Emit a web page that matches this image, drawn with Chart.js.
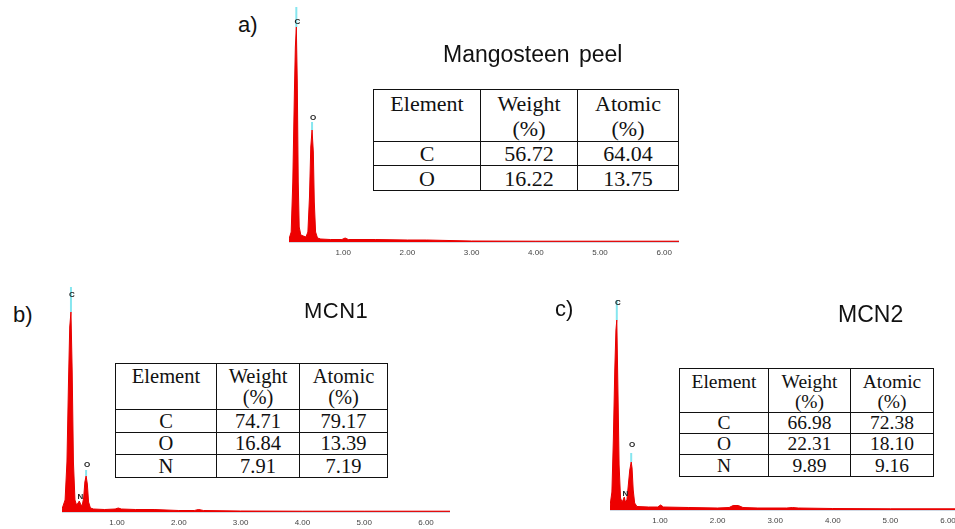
<!DOCTYPE html>
<html>
<head>
<meta charset="utf-8">
<script src="https://cdn.jsdelivr.net/npm/chart.js@4/dist/chart.umd.min.js"></script>
<style>
html,body{margin:0;padding:0;background:#fff;overflow:hidden;width:955px;height:529px;}
#wrap{position:relative;width:955px;height:529px;overflow:hidden;}
canvas{position:absolute;}
.lbl{position:absolute;font-family:"Liberation Sans",Arial,sans-serif;color:#111;line-height:1;white-space:pre;}
table{position:absolute;border-collapse:collapse;table-layout:fixed;font-family:"Liberation Serif","Times New Roman",serif;color:#111;background:#fff;}
td{border:1.5px solid #111;padding:0;text-align:center;vertical-align:middle;}
td.h{vertical-align:top;}
#ta{left:373px;top:89px;width:305px;font-size:22px;}
#ta td{line-height:23px;}
#ta td.h{line-height:25px;padding-top:1px;}
#tb{left:115px;top:363px;width:272px;font-size:20.5px;}
#tb td{line-height:21px;}
#tb td.h{line-height:21px;padding-top:2px;}
#tc{left:679px;top:368px;width:254px;font-size:19.5px;}
#tc td{line-height:20px;}
#tc td.h{line-height:20px;padding-top:3px;}
</style>
</head>
<body>
<div id="wrap">
<canvas id="ca" width="390" height="262" style="left:289px;top:0px;"></canvas>
<canvas id="cb" width="388" height="252" style="left:62px;top:280px;"></canvas>
<canvas id="cc" width="355" height="240" style="left:610px;top:290px;"></canvas>

<div class="lbl" style="left:238px;top:14px;font-size:22px;">a)</div>
<div class="lbl" style="left:443px;top:43px;font-size:23px;word-spacing:3px;">Mangosteen peel</div>
<div class="lbl" style="left:13px;top:304px;font-size:22px;">b)</div>
<div class="lbl" style="left:304px;top:300px;font-size:22px;letter-spacing:0.5px;">MCN1</div>
<div class="lbl" style="left:555px;top:298px;font-size:22px;">c)</div>
<div class="lbl" style="left:838px;top:303px;font-size:23px;">MCN2</div>

<table id="ta"></table>
<table id="tb"></table>
<table id="tc"></table>
</div>
<script>
// ---------- Data ----------
const xTickLabels = ["1.00","2.00","3.00","4.00","5.00","6.00"];
const xTickValues = [1,2,3,4,5,6];

// Panel a: Mangosteen peel spectrum (energy keV, counts)
const energyA = [0.156,0.19,0.215,0.24,0.255,0.27,0.285,0.30,0.315,0.34,0.38,0.42,0.45,0.475,0.495,0.515,0.535,0.55,0.57,0.60,0.65,0.8,0.98,1.03,1.08,1.5,2.0,2.3,3.0,4.0,5.0,6.23];
const countsA = [3,10,60,150,195,215,160,60,15,7,6,5,10,45,95,112,90,40,10,4,3,2.5,2.5,4,2.5,2.5,2,2,1,0.8,0.8,0.8];

// Panel b: MCN1 spectrum
const energyB = [0.11,0.16,0.19,0.215,0.235,0.255,0.275,0.295,0.32,0.345,0.37,0.39,0.41,0.435,0.46,0.48,0.50,0.52,0.54,0.57,0.62,0.8,0.97,1.02,1.07,1.3,1.6,2.0,2.25,2.32,2.4,3.0,4.0,5.0,6.39];
const countsB = [3,12,50,130,185,200,140,50,12,7,9,11,8,6,14,30,36,28,10,4,3,2.5,3,4,3,2.5,2.5,1.5,1.5,2.5,1.5,1,0.8,0.8,0.8];

// Panel c: MCN2 spectrum
const energyC = [0.132,0.165,0.19,0.215,0.235,0.25,0.27,0.29,0.315,0.34,0.36,0.38,0.40,0.425,0.45,0.475,0.50,0.515,0.535,0.56,0.6,0.8,0.96,1.01,1.06,1.5,2.0,2.2,2.27,2.36,2.44,2.7,3.2,3.3,3.4,4.0,5.0,6.3];
const countsC = [4,18,70,140,180,190,120,45,12,8,10,13,8,10,25,40,48,42,20,7,3.5,3,3,5,3,2.5,2,2.5,4.5,4.5,2.5,2,2,2.5,2,1.5,1.2,1.2];

// Peak markers: element, energy, peak counts, marker-line top counts (null = no line), label counts
const peakElA = ["C","O"];
const peakEA = [0.27,0.515];
const peakTopA = [215,112];
const lineTopA = [235,120];
const labelYA = [220,124];

const peakElB = ["C","O","N"];
const peakEB = [0.255,0.50,0.39];
const peakTopB = [200,36,11];
const lineTopB = [225,42,null];
const labelYB = [217,47,15];

const peakElC = ["C","O","N"];
const peakEC = [0.25,0.50,0.38];
const peakTopC = [190,48,13];
const lineTopC = [210,57,null];
const labelYC = [207,65,16];

// Tables
const tableHeaders = ["Element","Weight","Atomic"];
const tableUnits = ["","(%)","(%)"];
const elementsA = ["C","O"];
const weightA = ["56.72","16.22"];
const atomicA = ["64.04","13.75"];
const elementsB = ["C","O","N"];
const weightB = ["74.71","16.84","7.91"];
const atomicB = ["79.17","13.39","7.19"];
const elementsC = ["C","O","N"];
const weightC = ["66.98","22.31","9.89"];
const atomicC = ["72.38","18.10","9.16"];

// ---------- Tables ----------
function buildTable(id, colW, rowH, els, w, a){
  const t = document.getElementById(id);
  let html = '<colgroup>' + colW.map(c=>'<col style="width:'+c+'px">').join('') + '</colgroup>';
  html += '<tr style="height:'+rowH[0]+'px">' + tableHeaders.map((h,i)=>'<td class="h">'+h+(tableUnits[i]?'<br>'+tableUnits[i]:'')+'</td>').join('') + '</tr>';
  els.forEach((e,i)=>{
    html += '<tr style="height:'+rowH[i+1]+'px"><td>'+e+'</td><td>'+w[i]+'</td><td>'+a[i]+'</td></tr>';
  });
  t.innerHTML = html;
}
buildTable("ta",[107,97,101],[50,24,25],elementsA,weightA,atomicA);
buildTable("tb",[101,83,88],[46,23,22,23],elementsB,weightB,atomicB);
buildTable("tc",[89,82,83],[44,21,21,22],elementsC,weightC,atomicC);

// ---------- Charts ----------
const peakPlugin = {
  id:'peakMarks',
  afterDatasetsDraw(chart, args, opts){
    const ctx = chart.ctx, xs = chart.scales.x, ys = chart.scales.y;
    ctx.save();
    opts.el.forEach((el,i)=>{
      const px = xs.getPixelForValue(opts.e[i]);
      if(opts.lineTop[i] !== null){
        ctx.strokeStyle = '#86e6ef';
        ctx.lineWidth = 2;
        ctx.beginPath();
        ctx.moveTo(px, ys.getPixelForValue(opts.lineTop[i]));
        ctx.lineTo(px, ys.getPixelForValue(opts.top[i]));
        ctx.stroke();
      }
      ctx.fillStyle = '#222';
      ctx.font = 'bold 8px "Liberation Sans", Arial, sans-serif';
      ctx.textAlign = 'center';
      ctx.textBaseline = 'middle';
      ctx.fillText(el, px + 1, ys.getPixelForValue(opts.labelY[i]));
    });
    ctx.restore();
  }
};

function makeChart(id, energy, counts, xMin, xMax, yMax, marks){
  const data = energy.map((e,i)=>({x:e,y:counts[i]}));
  return new Chart(document.getElementById(id), {
    type:'line',
    data:{datasets:[{data:data, borderColor:'#e60000', backgroundColor:'#ee0000', borderWidth:1, fill:'origin', pointRadius:0, tension:0}]},
    options:{
      responsive:false, animation:false, devicePixelRatio:1,
      layout:{padding:0},
      plugins:{legend:{display:false}, tooltip:{enabled:false}, peakMarks:marks},
      scales:{
        x:{type:'linear', min:xMin, max:xMax,
           grid:{display:false, drawTicks:false},
           border:{display:true, color:'#a4b3c9', width:1.5},
           afterBuildTicks:(s)=>{ s.ticks = xTickValues.map(v=>({value:v})); },
           afterFit:(s)=>{ s.height = 20; },
           ticks:{padding:6, color:'#444', font:{size:8, family:'"Liberation Sans", Arial, sans-serif'},
                  callback:(v)=>{ const k = xTickValues.indexOf(v); return k>=0 ? xTickLabels[k] : ''; },
                  maxRotation:0, autoSkip:false}
        },
        y:{display:false, min:0, max:yMax}
      }
    },
    plugins:[peakPlugin]
  });
}

makeChart('ca', energyA, countsA, 0.156, 6.23, 242, {el:peakElA, e:peakEA, top:peakTopA, lineTop:lineTopA, labelY:labelYA});
makeChart('cb', energyB, countsB, 0.110, 6.388, 232, {el:peakElB, e:peakEB, top:peakTopB, lineTop:lineTopB, labelY:labelYB});
makeChart('cc', energyC, countsC, 0.132, 6.295, 220, {el:peakElC, e:peakEC, top:peakTopC, lineTop:lineTopC, labelY:labelYC});
</script>
</body>
</html>
